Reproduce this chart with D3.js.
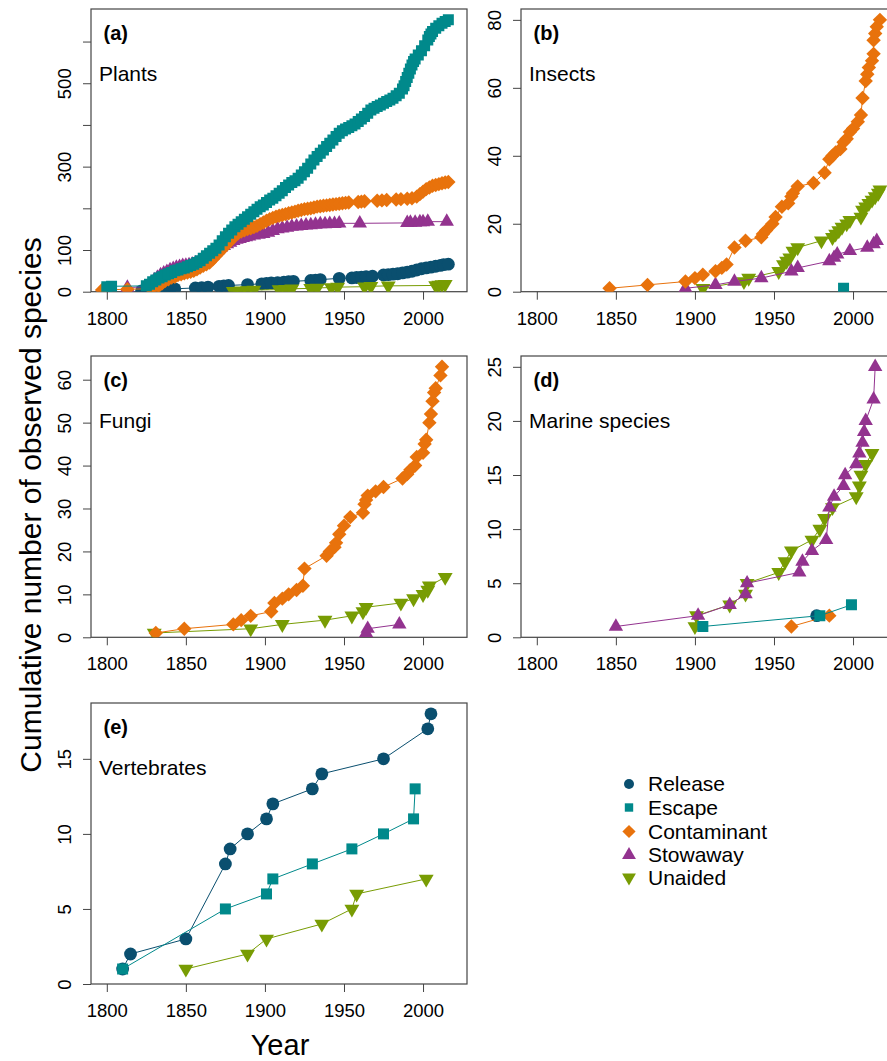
<!DOCTYPE html>
<html lang="en">
<head>
<meta charset="utf-8">
<title>Cumulative number of observed species</title>
<script src="https://d3js.org/d3.v7.min.js"></script>
<style>
  body { margin: 0; background: #fff; }
  svg { display: block; font-family: "Liberation Sans", Arial, Helvetica, sans-serif; }
</style>
</head>
<body>
<script>
// pathways in legend order, with their colours and marker shapes
const pathways = ["Release", "Escape", "Contaminant", "Stowaway", "Unaided"];
const colors = ["#0a4f6f", "#00898b", "#e8720c", "#93338f", "#789c03"];
const shapes = ["circle", "square", "diamond", "up", "down"];

// shared x axis
const xTicks = [1800, 1850, 1900, 1950, 2000];

// (a) Plants: [year, cumulative number of species]
const plantsRelease = [[1822,2],[1832,4],[1836,5],[1840,6],[1843,7],[1856,9],[1860,10],[1864,11],[1871,13],[1874,14],[1877,15],[1889,17],[1898,19],[1901,20],[1904,21],[1908,22],[1912,23],[1915,24],[1918,25],[1929,27],[1932,28],[1935,29],[1947,32],[1955,33],[1958,34],[1961,35],[1964,36],[1968,37],[1975,40],[1978,41],[1981,42],[1984,43],[1987,45],[1990,47],[1993,49],[1996,52],[1999,55],[2002,57],[2005,59],[2008,61],[2011,63],[2013,65],[2016,66]];
const plantsEscape = [[1800,12],[1803,13],[1825,14],[1827,18],[1829,24],[1831,28],[1833,33],[1835,36],[1837,40],[1839,43],[1841,46],[1843,50],[1845,52],[1847,55],[1849,57],[1851,60],[1853,63],[1855,66],[1857,70],[1859,74],[1861,80],[1863,86],[1865,92],[1867,98],[1869,104],[1871,112],[1873,122],[1875,132],[1877,140],[1879,148],[1881,156],[1883,162],[1885,168],[1887,174],[1889,180],[1891,186],[1893,192],[1895,198],[1897,204],[1899,208],[1901,214],[1903,220],[1905,224],[1907,230],[1909,236],[1911,242],[1913,250],[1915,256],[1917,262],[1919,266],[1921,272],[1923,280],[1925,288],[1927,296],[1929,306],[1931,316],[1933,324],[1935,332],[1937,340],[1939,348],[1941,356],[1943,364],[1945,372],[1947,380],[1949,386],[1951,390],[1953,394],[1955,398],[1957,402],[1959,408],[1961,414],[1963,420],[1965,428],[1967,436],[1969,440],[1971,444],[1973,448],[1975,452],[1977,456],[1979,460],[1981,464],[1983,470],[1985,476],[1987,486],[1988,494],[1989,504],[1990,514],[1991,524],[1992,534],[1993,544],[1994,552],[1995,558],[1997,568],[1999,578],[2001,590],[2003,604],[2004,612],[2005,618],[2006,624],[2008,632],[2010,638],[2012,644],[2014,648],[2016,652]];
const plantsContaminant = [[1797,4],[1813,6],[1828,7],[1831,9],[1833,14],[1835,20],[1837,26],[1839,30],[1841,34],[1843,36],[1845,40],[1847,42],[1849,44],[1851,46],[1853,48],[1855,50],[1857,54],[1859,58],[1861,62],[1863,66],[1865,70],[1867,78],[1869,86],[1871,94],[1873,102],[1875,110],[1877,118],[1879,126],[1881,134],[1883,140],[1885,144],[1887,147],[1889,150],[1891,152],[1893,155],[1895,158],[1897,162],[1899,166],[1901,170],[1903,174],[1905,177],[1907,180],[1909,182],[1911,184],[1913,186],[1915,188],[1917,190],[1919,192],[1921,194],[1923,196],[1925,198],[1927,199],[1929,200],[1931,202],[1933,204],[1935,205],[1937,206],[1939,207],[1941,208],[1943,209],[1945,210],[1947,211],[1949,212],[1951,213],[1953,214],[1959,215],[1961,216],[1963,217],[1971,218],[1974,219],[1977,220],[1983,221],[1986,222],[1990,223],[1993,224],[1996,228],[1998,234],[2000,240],[2002,246],[2004,250],[2006,254],[2008,256],[2010,258],[2012,260],[2014,262],[2016,263]];
const plantsStowaway = [[1813,10],[1826,12],[1828,20],[1830,28],[1832,34],[1834,40],[1836,44],[1838,48],[1840,52],[1842,55],[1844,58],[1846,60],[1848,62],[1850,63],[1852,64],[1854,66],[1856,68],[1858,70],[1860,74],[1862,78],[1864,82],[1866,88],[1868,94],[1870,100],[1872,106],[1874,110],[1876,114],[1878,118],[1880,122],[1882,125],[1884,127],[1886,129],[1888,131],[1890,133],[1893,135],[1896,137],[1899,139],[1902,142],[1905,146],[1908,150],[1911,152],[1914,154],[1917,156],[1920,157],[1923,158],[1926,159],[1929,160],[1932,161],[1935,162],[1938,162],[1941,163],[1944,163],[1947,164],[1960,164],[1990,165],[1992,166],[1995,166],[1998,167],[2000,167],[2003,168],[2015,168]];
const plantsUnaided = [[1880,1],[1885,2],[1889,3],[1893,4],[1909,5],[1913,6],[1917,7],[1929,8],[1933,9],[1942,10],[1946,11],[1963,12],[1967,13],[1978,14],[2008,15],[2010,16],[2012,17],[2014,18]];

// (b) Insects
const insectsEscape = [[1994,1]];
const insectsContaminant = [[1846,1],[1870,2],[1894,3],[1900,4],[1905,5],[1913,6],[1917,7],[1920,8],[1925,13],[1932,15],[1942,16],[1943,17],[1945,18],[1949,20],[1951,22],[1955,25],[1959,26],[1961,28],[1962,29],[1965,31],[1975,32],[1982,35],[1985,39],[1987,40],[1989,41],[1992,42],[1994,44],[1996,45],[1998,47],[2000,48],[2003,50],[2005,52],[2006,57],[2008,62],[2009,64],[2010,66],[2012,68],[2013,70],[2013,74],[2014,76],[2015,78],[2017,80]];
const insectsStowaway = [[1894,1],[1913,2],[1925,3],[1942,4],[1961,6],[1965,7],[1985,9],[1988,10],[1990,11],[1998,12],[2009,13],[2013,14],[2015,15]];
const insectsUnaided = [[1905,1],[1931,3],[1934,4],[1953,6],[1956,8],[1958,9],[1960,10],[1962,12],[1965,13],[1980,15],[1987,16],[1989,17],[1991,18],[1993,19],[1996,20],[1998,21],[2005,22],[2006,24],[2008,25],[2010,26],[2012,27],[2014,28],[2016,29],[2017,30]];

// (c) Fungi
const fungiContaminant = [[1831,1],[1849,2],[1880,3],[1885,4],[1891,5],[1904,6],[1906,8],[1911,9],[1915,10],[1920,11],[1924,12],[1925,16],[1939,19],[1941,20],[1944,21],[1945,22],[1947,24],[1950,26],[1954,28],[1962,29],[1963,31],[1964,32],[1965,33],[1970,34],[1975,35],[1987,37],[1990,38],[1992,39],[1995,40],[1996,42],[2000,43],[2001,45],[2002,46],[2004,50],[2005,52],[2006,55],[2007,57],[2008,58],[2011,61],[2012,63]];
const fungiStowaway = [[1964,1],[1965,2],[1985,3]];
const fungiUnaided = [[1830,1],[1891,2],[1911,3],[1938,4],[1955,5],[1962,6],[1964,7],[1986,8],[1994,9],[2000,10],[2003,11],[2004,12],[2014,14]];

// (d) Marine species
const marineRelease = [[1977,2]];
const marineEscape = [[1905,1],[1979,2],[1999,3]];
const marineContaminant = [[1961,1],[1985,2]];
const marineStowaway = [[1850,1],[1902,2],[1922,3],[1932,4],[1933,5],[1966,6],[1968,7],[1974,8],[1983,9],[1985,12],[1988,13],[1994,14],[1995,15],[2002,16],[2004,17],[2006,18],[2007,19],[2008,20],[2013,22],[2014,25]];
const marineUnaided = [[1900,1],[1901,2],[1922,3],[1932,4],[1933,5],[1953,6],[1957,7],[1961,8],[1974,9],[1979,10],[1982,11],[1987,12],[2002,13],[2004,14],[2005,15],[2008,16],[2012,17]];

// (e) Vertebrates
const vertRelease = [[1810,1],[1815,2],[1850,3],[1875,8],[1878,9],[1889,10],[1901,11],[1905,12],[1930,13],[1936,14],[1975,15],[2003,17],[2005,18]];
const vertEscape = [[1810,1],[1875,5],[1901,6],[1905,7],[1930,8],[1955,9],[1975,10],[1994,11],[1995,13]];
const vertUnaided = [[1850,1],[1889,2],[1901,3],[1936,4],[1955,5],[1958,6],[2002,7]];

// y ticks and the labels R kept (blank = tick without label)
const yTicksA = [0, 100, 200, 300, 400, 500, 600];
const yLabelsA = ["0", "100", "", "300", "", "500", ""];
const yTicksB = [0, 20, 40, 60, 80];
const yTicksC = [0, 10, 20, 30, 40, 50, 60];
const yTicksD = [0, 5, 10, 15, 20, 25];
const yTicksE = [0, 5, 10, 15];

const panels = [
  { tag: "(a)", name: "Plants", col: 0, row: 0, yTicks: yTicksA, yLabels: yLabelsA,
    series: { Release: plantsRelease, Escape: plantsEscape, Contaminant: plantsContaminant, Stowaway: plantsStowaway, Unaided: plantsUnaided } },
  { tag: "(b)", name: "Insects", col: 1, row: 0, yTicks: yTicksB,
    series: { Escape: insectsEscape, Contaminant: insectsContaminant, Stowaway: insectsStowaway, Unaided: insectsUnaided } },
  { tag: "(c)", name: "Fungi", col: 0, row: 1, yTicks: yTicksC,
    series: { Contaminant: fungiContaminant, Stowaway: fungiStowaway, Unaided: fungiUnaided } },
  { tag: "(d)", name: "Marine species", col: 1, row: 1, yTicks: yTicksD,
    series: { Release: marineRelease, Escape: marineEscape, Contaminant: marineContaminant, Stowaway: marineStowaway, Unaided: marineUnaided } },
  { tag: "(e)", name: "Vertebrates", col: 0, row: 2, yTicks: yTicksE,
    series: { Release: vertRelease, Escape: vertEscape, Unaided: vertUnaided } }
];

// layout
const width = 887, height = 1061;
const colX = [91, 521], boxW = 376;
const rowY = [9, 356, 703], boxH = [282.7, 281.3, 281];
const drawOrder = ["Release", "Unaided", "Stowaway", "Contaminant", "Escape"];
const boxColor = "#444";
const tickFont = 18.5;

// marker outline centred on 0,0
function markerPath(kind, s) {
  const xc = s * Math.sqrt(3) / 2;
  switch (kind) {
    case "circle": return `M${s},0A${s},${s} 0 1,1 ${-s},0A${s},${s} 0 1,1 ${s},0Z`;
    case "square": return `M${-s},${-s}H${s}V${s}H${-s}Z`;
    case "diamond": return `M0,${-s}L${s},0L0,${s}L${-s},0Z`;
    case "up": return `M0,${-s}L${xc},${s / 2}L${-xc},${s / 2}Z`;
    case "down": return `M0,${s}L${xc},${-s / 2}L${-xc},${-s / 2}Z`;
  }
}
const markerSize = { circle: 6.4, square: 5.5, diamond: 7.2, up: 8.3, down: 8.6 };
const legendSize = { circle: 5, square: 4.2, diamond: 6.6, up: 8, down: 8 };

const svg = d3.select("body").append("svg")
  .attr("width", width)
  .attr("height", height);

panels.forEach((p, i) => {
  const x0 = colX[p.col], y0 = rowY[p.row], h = boxH[p.row];
  const ymax = d3.max(Object.values(p.series), s => d3.max(s, d => d[1]));

  const x = d3.scaleLinear().domain([1790, 2027.8]).range([x0, x0 + boxW]);
  const y = d3.scaleLinear().domain([0, ymax * 1.04]).range([y0 + h, y0]);

  const g = svg.append("g");

  // clip marks to the plot box
  g.append("clipPath").attr("id", "clip" + i)
    .append("rect").attr("x", x0).attr("y", y0).attr("width", boxW).attr("height", h);

  // x axis
  const xAxis = g.append("g")
    .attr("transform", `translate(0,${y0 + h})`)
    .call(d3.axisBottom(x).tickValues(xTicks).tickFormat(d3.format("d")).tickSize(8).tickPadding(8));
  xAxis.select(".domain").remove();
  xAxis.selectAll("line").attr("stroke", boxColor);
  xAxis.selectAll("text").attr("font-size", tickFont).attr("font-family", null).attr("fill", "#000")
    .attr("dy", null).attr("y", 33);

  // y axis with rotated labels
  const yAxis = g.append("g")
    .attr("transform", `translate(${x0},0)`)
    .call(d3.axisLeft(y).tickValues(p.yTicks).tickSize(8)
      .tickFormat((d, k) => p.yLabels ? p.yLabels[k] : String(d)));
  yAxis.select(".domain").remove();
  yAxis.selectAll("line").attr("stroke", boxColor);
  yAxis.selectAll("text").attr("font-size", tickFont).attr("font-family", null).attr("fill", "#000")
    .attr("x", null).attr("dy", null)
    .attr("text-anchor", "middle")
    .attr("transform", "translate(-20,0) rotate(-90)");

  // plot box
  g.append("rect")
    .attr("x", x0).attr("y", y0).attr("width", boxW).attr("height", h)
    .attr("fill", "none").attr("stroke", boxColor).attr("stroke-width", 1.2);

  const marks = g.append("g").attr("clip-path", `url(#clip${i})`);
  const line = d3.line().x(d => x(d[0])).y(d => y(d[1]));

  drawOrder.forEach(name => {
    const data = p.series[name];
    if (!data) return;
    const k = pathways.indexOf(name);
    const shape = shapes[k];
    marks.append("path")
      .datum(data)
      .attr("d", line)
      .attr("fill", "none")
      .attr("stroke", colors[k])
      .attr("stroke-width", 1);
    marks.selectAll(null)
      .data(data)
      .enter()
      .append("path")
      .attr("d", markerPath(shape, markerSize[shape]))
      .attr("transform", d => `translate(${x(d[0])},${y(d[1])})`)
      .attr("fill", colors[k]);
  });

  // panel tag and group name
  g.append("text").attr("x", x0 + 12.5).attr("y", y0 + 31)
    .attr("font-size", 20).attr("font-weight", "bold").text(p.tag);
  g.append("text").attr("x", x0 + 8).attr("y", y0 + 72)
    .attr("font-size", 21).text(p.name);
});

// legend
const legend = svg.append("g");
const legendRows = [784, 807.5, 831.5, 855, 877.5];
pathways.forEach((name, k) => {
  const shape = shapes[k];
  legend.append("path")
    .attr("d", markerPath(shape, legendSize[shape]))
    .attr("transform", `translate(629,${legendRows[k]})`)
    .attr("fill", colors[k]);
  legend.append("text")
    .attr("x", 648).attr("y", legendRows[k] + 7)
    .attr("font-size", 21)
    .text(name);
});

// outer axis titles
svg.append("text")
  .attr("transform", "translate(41,505) rotate(-90)")
  .attr("text-anchor", "middle")
  .attr("font-size", 30)
  .text("Cumulative number of observed species");

svg.append("text")
  .attr("x", 280).attr("y", 1055)
  .attr("text-anchor", "middle")
  .attr("font-size", 29)
  .text("Year");
</script>
</body>
</html>
